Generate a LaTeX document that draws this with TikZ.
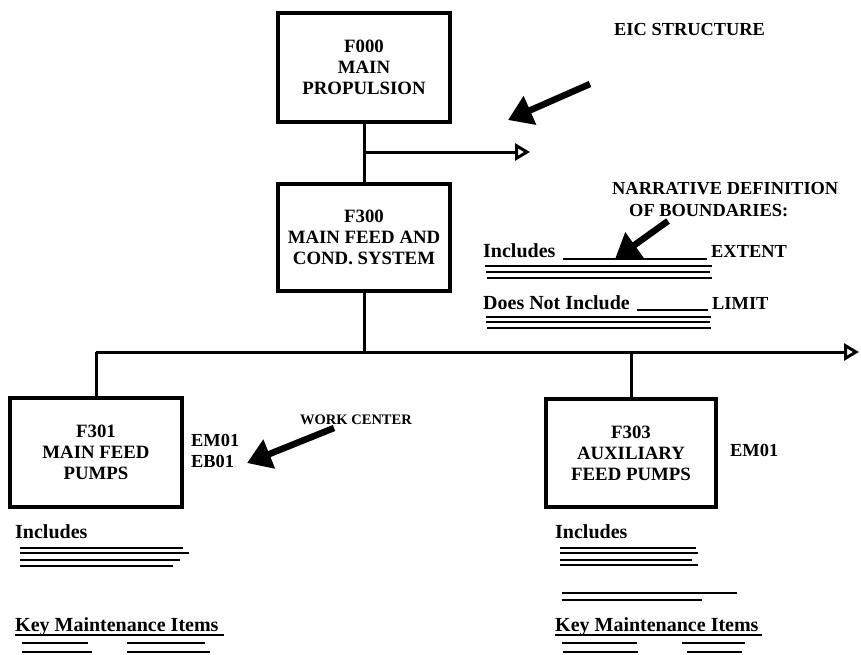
\documentclass[tikz,border=0pt]{standalone}
\usepackage{fontspec}
\setmainfont{Liberation Serif}
\usetikzlibrary{arrows.meta}
\begin{document}
\begin{tikzpicture}[x=1pt,y=-1pt,
 box/.style={draw,line width=3.4pt,align=center,inner sep=0pt,
   font=\fontsize{18.8}{21}\selectfont\bfseries},
 conn/.style={line width=3pt},
 openarr/.style={conn,-{Triangle[open,length=15pt,width=17pt,line width=3pt]}},
 bigarr/.style={line width=6.5pt,-{Triangle[length=24pt,width=30pt]}},
 caps/.style={font=\fontsize{18.4}{22}\selectfont\bfseries,inner sep=0pt,anchor=base west},
 lower/.style={font=\fontsize{20}{22}\selectfont\bfseries,inner sep=0pt,anchor=base west},
 small/.style={font=\fontsize{14.5}{17}\selectfont\bfseries,inner sep=0pt,anchor=base west},
 rulex/.style={line width=1.9pt},
]
\useasboundingbox (0,0) rectangle (861,654);

% boxes
\node[box,minimum width=172pt,minimum height=109pt] (f000) at (364,67.5) {F000\\MAIN\\PROPULSION};
\node[box,minimum width=172pt,minimum height=107pt] (f300) at (364,237.5) {F300\\MAIN FEED AND\\COND. SYSTEM};
\node[box,minimum width=172pt,minimum height=109pt] (f301) at (96,452.5) {F301\\MAIN FEED\\PUMPS};
\node[box,minimum width=170pt,minimum height=108pt] (f303) at (631,453) {F303\\AUXILIARY\\FEED PUMPS};

% connectors
\coordinate (br) at (364,152);
\coordinate (brend) at (530,152);
\coordinate (bus) at (364,352);
\coordinate (busR) at (859,352);
\coordinate (busL) at (96,352);
\coordinate (busM) at (631,352);
\draw[conn] (f000.south) -- (f300.north);
\draw[openarr] (br) -- (brend);
\draw[conn] (f300.south) -- (bus);
\draw[openarr] (busL) -- (busR);
\draw[conn] (busL) -- (f301.north);
\draw[conn] (busM) -- (f303.north);

% EIC structure
\node[caps] (eic) at (614,35) {EIC STRUCTURE};
\coordinate (eicA) at (590,84);
\coordinate (eicB) at (508,120);
\draw[bigarr] (eicA) -- (eicB);

% narrative
\node[caps] (nar1) at (612,194) {NARRATIVE DEFINITION};
\node[caps] (nar2) at (629,216) {OF BOUNDARIES:};
\coordinate (narA) at (668,221);
\coordinate (narB) at (615,259);
\draw[bigarr] (narA) -- (narB);

\node[lower] (inc0) at (483,257) {Includes};
\draw[rulex] (563,259) -- (707,259);
\node[caps] (ext) at (711,257) {EXTENT};
\draw[rulex] (485,266) -- (712,266);
\draw[rulex] (486,272) -- (710,272);
\draw[rulex] (487,278) -- (712,278);

\node[lower] (dni) at (483,309) {Does Not Include};
\draw[rulex] (637,310) -- (708,310);
\node[caps] (lim) at (712,309) {LIMIT};
\draw[rulex] (486,317) -- (711,317);
\draw[rulex] (486,322) -- (710,322);
\draw[rulex] (487,328) -- (711,328);

% work centers
\node[caps] (em1) at (191,446) {EM01};
\node[caps] (eb1) at (191,467) {EB01};
\node[caps] (em2) at (730,456) {EM01};
\node[small] (wc) at (300,424) {WORK CENTER};
\coordinate (wcA) at (334,428);
\coordinate (wcB) at (247,463);
\draw[bigarr] (wcA) -- (wcB);

% left notes
\node[lower] (inc1) at (15,538) {Includes};
\draw[rulex] (20,548) -- (183,548);
\draw[rulex] (20,553) -- (189,553);
\draw[rulex] (20,560) -- (180,560);
\draw[rulex] (20,566) -- (173,566);
\node[lower] (kmi1) at (15,631) {Key Maintenance Items};
\draw[rulex] (15,635) -- (224,635);
\draw[rulex] (22,643) -- (88,643);
\draw[rulex] (127,643) -- (205,643);
\draw[rulex] (22,652) -- (92,652);
\draw[rulex] (127,652) -- (210,652);

% right notes
\node[lower] (inc2) at (555,538) {Includes};
\draw[rulex] (560,548) -- (696,548);
\draw[rulex] (560,553) -- (698,553);
\draw[rulex] (560,560) -- (692,560);
\draw[rulex] (560,565) -- (698,565);
\draw[rulex] (562,593) -- (737,593);
\draw[rulex] (562,600) -- (702,600);
\node[lower] (kmi2) at (555,631) {Key Maintenance Items};
\draw[rulex] (555,635) -- (762,635);
\draw[rulex] (562,643) -- (637,643);
\draw[rulex] (682,643) -- (745,643);
\draw[rulex] (563,652) -- (638,652);
\draw[rulex] (687,652) -- (742,652);
\end{tikzpicture}
\end{document}
